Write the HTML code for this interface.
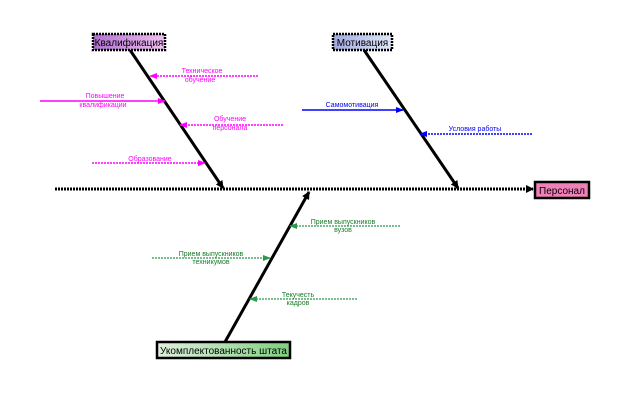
<!DOCTYPE html>
<html><head><meta charset="utf-8"><style>
html,body{margin:0;padding:0;background:#fff;width:621px;height:407px;overflow:hidden}
svg text{font-family:"Liberation Sans","DejaVu Sans",sans-serif}
</style></head><body>
<svg width="621" height="407" viewBox="0 0 621 407" xmlns="http://www.w3.org/2000/svg">
<defs>
<marker id="ak" markerWidth="8" markerHeight="8" refX="7" refY="4" orient="auto" markerUnits="userSpaceOnUse"><path d="M0,0 L8,4 L0,8 Z" fill="#000"/></marker>
<marker id="am" markerWidth="8" markerHeight="8" refX="7" refY="4" orient="auto" markerUnits="userSpaceOnUse"><path d="M0,1 L8,4 L0,7 Z" fill="#f0f"/></marker>
<marker id="ab" markerWidth="8" markerHeight="8" refX="7" refY="4" orient="auto" markerUnits="userSpaceOnUse"><path d="M0,1 L8,4 L0,7 Z" fill="#00f"/></marker>
<marker id="ag" markerWidth="8" markerHeight="8" refX="7" refY="4" orient="auto" markerUnits="userSpaceOnUse"><path d="M0,1 L8,4 L0,7 Z" fill="#2a9a4a"/></marker>
<linearGradient id="g1" x1="0" x2="1"><stop offset="0" stop-color="#b070d0"/><stop offset="1" stop-color="#f0c0f0"/></linearGradient>
<linearGradient id="g2" x1="0" x2="1"><stop offset="0" stop-color="#a0a8e0"/><stop offset="1" stop-color="#e0e8f8"/></linearGradient>
<linearGradient id="g3" x1="0" x2="1"><stop offset="0" stop-color="#e0f0e0"/><stop offset="1" stop-color="#80d080"/></linearGradient>
</defs>
<!-- spine -->
<line x1="55" y1="189" x2="533" y2="189" stroke="#000" stroke-width="3" stroke-dasharray="2 1" marker-end="url(#ak)"/>
<!-- bones -->
<line x1="130" y1="50" x2="223" y2="188" stroke="#000" stroke-width="3" marker-end="url(#ak)"/>
<line x1="364" y1="50" x2="458" y2="188" stroke="#000" stroke-width="3" marker-end="url(#ak)"/>
<line x1="225" y1="342" x2="309" y2="192" stroke="#000" stroke-width="3" marker-end="url(#ak)"/>
<!-- magenta -->
<g stroke="#f0f" stroke-width="1.5">
<line x1="258" y1="76" x2="150" y2="76" stroke-dasharray="2 1" marker-end="url(#am)"/>
<line x1="40" y1="101" x2="165" y2="101" marker-end="url(#am)"/>
<line x1="283" y1="125" x2="180" y2="125" stroke-dasharray="2 1" marker-end="url(#am)"/>
<line x1="92" y1="163" x2="205" y2="163" stroke-dasharray="2 1" marker-end="url(#am)"/>
</g>
<g fill="#f0f" font-size="7" text-anchor="middle">
<text x="202" y="73">Техническое</text><text x="200" y="82">обучение</text>
<text x="105" y="98">Повышение</text><text x="103" y="107">квалификации</text>
<text x="230" y="121">Обучение</text><text x="230" y="130">персонала</text>
<text x="150" y="161">Образование</text>
</g>
<!-- blue -->
<line x1="302" y1="110" x2="403" y2="110" stroke="#00f" stroke-width="1.5" marker-end="url(#ab)"/>
<line x1="532" y1="134" x2="420" y2="134" stroke="#00f" stroke-width="1.5" stroke-dasharray="2 1" marker-end="url(#ab)"/>
<g fill="#00f" font-size="7" text-anchor="middle">
<text x="352" y="107">Самомотивация</text>
<text x="475" y="131">Условия работы</text>
</g>
<!-- green -->
<g stroke="#2a9a4a" stroke-width="1.2" stroke-dasharray="2 1">
<line x1="400" y1="226" x2="290" y2="226" marker-end="url(#ag)"/>
<line x1="152" y1="258" x2="270" y2="258" marker-end="url(#ag)"/>
<line x1="357" y1="299" x2="250" y2="299" marker-end="url(#ag)"/>
</g>
<g fill="#1a7a2a" font-size="7" text-anchor="middle">
<text x="343" y="224">Прием выпускников</text><text x="343" y="232">вузов</text>
<text x="211" y="256">Прием выпускников</text><text x="211" y="264">техникумов</text>
<text x="298" y="297">Текучесть</text><text x="298" y="305">кадров</text>
</g>
<!-- boxes -->
<rect x="93" y="34" width="72" height="16" fill="url(#g1)" stroke="#000" stroke-width="2.5" stroke-dasharray="2 1"/>
<text x="129" y="46" font-size="10" text-anchor="middle" fill="#000">Квалификация</text>
<rect x="333" y="34" width="59" height="16" fill="url(#g2)" stroke="#000" stroke-width="2.5" stroke-dasharray="2 1"/>
<text x="362.5" y="46" font-size="10" text-anchor="middle" fill="#000">Мотивация</text>
<rect x="535" y="182" width="54" height="16" fill="#f080b8" stroke="#000" stroke-width="2.5"/>
<text x="562" y="194" font-size="10" text-anchor="middle" fill="#000">Персонал</text>
<rect x="157" y="342" width="133" height="16" fill="url(#g3)" stroke="#000" stroke-width="2.5"/>
<text x="223.5" y="354" font-size="10" text-anchor="middle" fill="#000">Укомплектованность штата</text>
</svg>
</body></html>
